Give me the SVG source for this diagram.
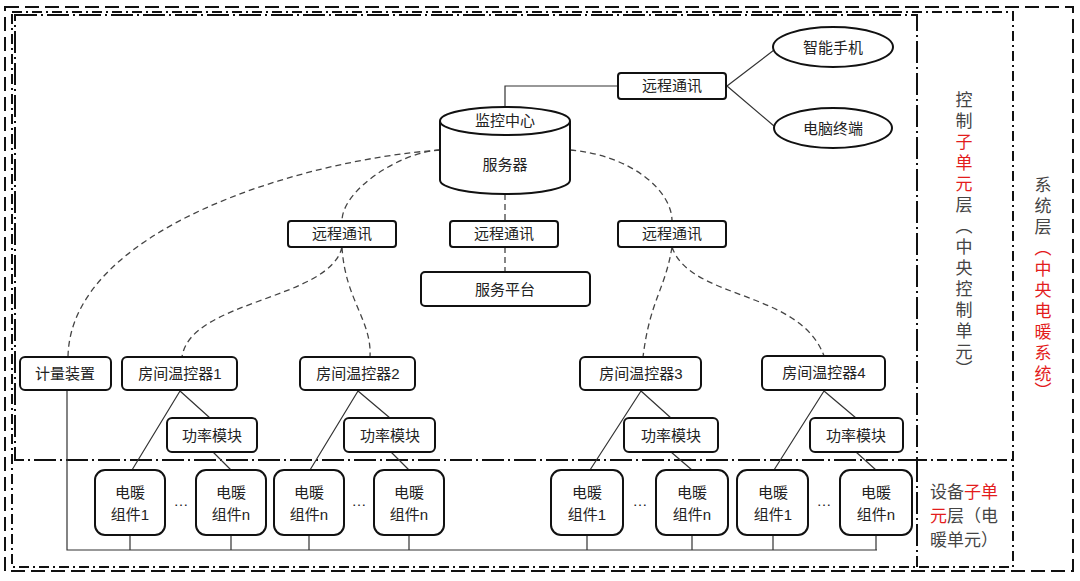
<svg xmlns="http://www.w3.org/2000/svg" width="1080" height="581" viewBox="0 0 1080 581">
<style>
text{font-family:"Liberation Sans","Noto Sans CJK SC",sans-serif;font-size:15px;fill:#222;text-anchor:middle}
.n{fill:#fff;stroke:#111;stroke-width:2}
.l{fill:none;stroke:#333;stroke-width:1.2}
.d{fill:none;stroke:#444;stroke-width:1.3;stroke-dasharray:6,4}
.side{font-size:17px;fill:#444}
.st{text-anchor:start}
.r{fill:#e31c1c}
</style>
<rect width="1080" height="581" fill="#fff"/>
<g id="frames" fill="none" stroke="#111" stroke-width="2">
<rect x="5" y="7" width="1068" height="564" stroke-dasharray="14,6"/>
<rect x="12" y="12" width="1001" height="555" stroke-dasharray="10,4,2,4"/>
<rect x="15" y="15" width="902" height="445" stroke-dasharray="22,4,2,4"/>
<line x1="917" y1="460" x2="917" y2="567" stroke-dasharray="22,4,2,4"/>
<line x1="917" y1="460" x2="1013" y2="460" stroke-dasharray="10,4,2,4"/>
</g>
<g id="connectors">
<path class="l" d="M505,107 V86 H618 M727,86 L774,50 M727,86 L774,126"/>
<path class="d" d="M505,194 V221 M505,247 V272"/>
<path class="d" d="M570,150 C630,155 672,190 672,221"/>
<path class="d" d="M672,247 C665,290 650,300 643,357 M672,247 C690,300 800,290 824,356"/>
<path class="d" d="M440,150 C400,152 342,190 342,221"/>
<path class="d" d="M440,150 C300,160 70,230 68,357"/>
<path class="d" d="M342,247 C330,300 190,300 182,357 M342,247 C345,300 372,320 370,357"/>
<path class="l" d="M180,391 L132,470 M180,391 L210,418 M213,452 L231,470"/>
<path class="l" d="M358,391 L310,470 M358,391 L390,418 M391,452 L409,470"/>
<path class="l" d="M641,391 L590,470 M641,391 L671,418 M671,452 L692,470"/>
<path class="l" d="M824,391 L774,470 M824,391 L856,418 M856,452 L876,470"/>
<path class="l" d="M67,390 V550 H877 M130,535 V550 M231,535 V550 M309,535 V550 M409,535 V550 M587,535 V550 M692,535 V550 M773,535 V550 M876,535 V550"/>
</g>
<g id="server">
<path class="n" d="M440,121 V180 A65,14 0 0 0 570,180 V121"/>
<ellipse class="n" cx="505" cy="121" rx="65" ry="14"/>
<text x="505" y="126" font-size="14">监控中心</text>
<text x="505" y="170">服务器</text>
</g>
<g id="comm-top"><rect class="n" x="618" y="73" width="108" height="26" rx="3"/><text x="672" y="91">远程通讯</text></g>
<g id="phone"><ellipse class="n" cx="833" cy="47" rx="60" ry="20"/><text x="833" y="53">智能手机</text></g>
<g id="pc"><ellipse class="n" cx="833" cy="128" rx="59" ry="20"/><text x="833" y="134">电脑终端</text></g>
<g id="comm-l"><rect class="n" x="288" y="221" width="108" height="26" rx="3"/><text x="342" y="239">远程通讯</text></g>
<g id="comm-m"><rect class="n" x="450" y="221" width="108" height="26" rx="3"/><text x="504" y="239">远程通讯</text></g>
<g id="comm-r"><rect class="n" x="618" y="221" width="108" height="26" rx="3"/><text x="672" y="239">远程通讯</text></g>
<g id="platform"><rect class="n" x="421" y="272" width="169" height="34" rx="4"/><text x="505" y="295">服务平台</text></g>
<g id="meter"><rect class="n" x="20" y="357" width="91" height="33" rx="5"/><text x="65" y="379">计量装置</text></g>
<g id="t1"><rect class="n" x="122" y="357" width="115" height="33" rx="5"/><text x="180" y="379">房间温控器1</text></g>
<g id="t2"><rect class="n" x="300" y="357" width="115" height="33" rx="5"/><text x="358" y="379">房间温控器2</text></g>
<g id="t3"><rect class="n" x="580" y="357" width="121" height="33" rx="5"/><text x="641" y="379">房间温控器3</text></g>
<g id="t4"><rect class="n" x="762" y="356" width="123" height="34" rx="5"/><text x="824" y="378">房间温控器4</text></g>
<g id="p1"><rect class="n" x="167" y="418" width="90" height="34" rx="5"/><text x="212" y="441">功率模块</text></g>
<g id="p2"><rect class="n" x="344" y="418" width="91" height="34" rx="5"/><text x="390" y="441">功率模块</text></g>
<g id="p3"><rect class="n" x="624" y="418" width="94" height="34" rx="5"/><text x="671" y="441">功率模块</text></g>
<g id="p4"><rect class="n" x="810" y="418" width="93" height="34" rx="5"/><text x="856" y="441">功率模块</text></g>
<g id="h1"><rect class="n" x="95" y="470" width="70" height="65" rx="10"/><text x="130" y="498">电暖</text><text x="130" y="520">组件1</text></g>
<g id="h2"><rect class="n" x="196" y="470" width="70" height="65" rx="10"/><text x="231" y="498">电暖</text><text x="231" y="520">组件n</text></g>
<g id="h3"><rect class="n" x="274" y="470" width="70" height="65" rx="10"/><text x="309" y="498">电暖</text><text x="309" y="520">组件n</text></g>
<g id="h4"><rect class="n" x="374" y="470" width="70" height="65" rx="10"/><text x="409" y="498">电暖</text><text x="409" y="520">组件n</text></g>
<g id="h5"><rect class="n" x="551" y="470" width="72" height="65" rx="10"/><text x="587" y="498">电暖</text><text x="587" y="520">组件1</text></g>
<g id="h6"><rect class="n" x="656" y="470" width="72" height="65" rx="10"/><text x="692" y="498">电暖</text><text x="692" y="520">组件n</text></g>
<g id="h7"><rect class="n" x="737" y="470" width="71" height="65" rx="10"/><text x="773" y="498">电暖</text><text x="773" y="520">组件1</text></g>
<g id="h8"><rect class="n" x="840" y="470" width="72" height="65" rx="10"/><text x="876" y="498">电暖</text><text x="876" y="520">组件n</text></g>
<g id="dots" font-size="12"><text x="181" y="506">…</text><text x="359" y="506">…</text><text x="640" y="506">…</text><text x="824" y="506">…</text></g>
<g id="labels">
<text class="side" x="964"><tspan x="964" y="106">控</tspan><tspan x="964" y="127">制</tspan><tspan x="964" y="148" class="r">子</tspan><tspan x="964" y="169" class="r">单</tspan><tspan x="964" y="190" class="r">元</tspan><tspan x="964" y="211">层</tspan><tspan x="964" y="232">︵</tspan><tspan x="964" y="253">中</tspan><tspan x="964" y="274">央</tspan><tspan x="964" y="295">控</tspan><tspan x="964" y="316">制</tspan><tspan x="964" y="337">单</tspan><tspan x="964" y="358">元</tspan><tspan x="964" y="375">︶</tspan></text>
<text class="side" x="1043"><tspan x="1043" y="191">系</tspan><tspan x="1043" y="212">统</tspan><tspan x="1043" y="233">层</tspan><tspan x="1043" y="254" class="r">︵</tspan><tspan x="1043" y="275" class="r">中</tspan><tspan x="1043" y="296" class="r">央</tspan><tspan x="1043" y="317" class="r">电</tspan><tspan x="1043" y="338" class="r">暖</tspan><tspan x="1043" y="359" class="r">系</tspan><tspan x="1043" y="380" class="r">统</tspan><tspan x="1043" y="397" class="r">︶</tspan></text>
<text class="side st" x="930" y="498">设备<tspan class="r">子单</tspan></text>
<text class="side st" x="930" y="522"><tspan class="r">元</tspan>层（电</text>
<text class="side st" x="930" y="546">暖单元）</text>
</g>
</svg>
